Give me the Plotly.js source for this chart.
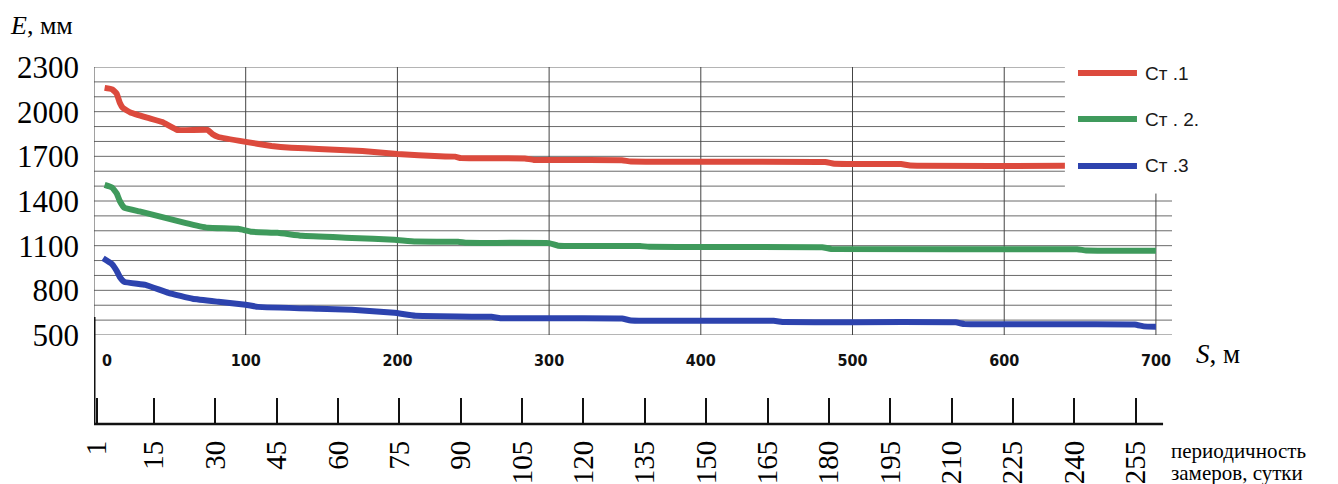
<!DOCTYPE html>
<html>
<head>
<meta charset="utf-8">
<script src="https://cdn.plot.ly/plotly-3.0.1.min.js"></script>
<style>
  html, body { margin: 0; padding: 0; background: #ffffff; }
  #chart { width: 1338px; height: 484px; }
</style>
</head>
<body>
<div id="chart"></div>
<script>
// ---------- data ----------
const seriesNames = ['Ст .1', 'Ст . 2.', 'Ст .3'];
const seriesColors = ['#dc4a3d', '#3f9a5c', '#2d43ae'];

const s1 = [7, 12, 15, 17, 19, 24, 35, 45, 55, 75, 78, 82, 100, 117, 130, 148, 177, 200, 228, 238, 242, 284, 290, 348, 354, 482, 488, 532, 538, 640];
const e1 = [2160, 2150, 2120, 2060, 2025, 1995, 1960, 1930, 1877, 1877, 1850, 1830, 1797, 1770, 1758, 1750, 1736, 1716, 1700, 1698, 1688, 1686, 1676, 1674, 1665, 1662, 1650, 1648, 1638, 1636];

const s2 = [7, 12, 15, 17, 20, 30, 47, 60, 75, 95, 104, 121, 137, 170, 198, 212, 240, 246, 300, 306, 360, 366, 480, 486, 648, 654, 700];
const e2 = [1508, 1490, 1450, 1400, 1355, 1330, 1287, 1253, 1220, 1213, 1193, 1186, 1166, 1152, 1139, 1128, 1126, 1119, 1117, 1100, 1098, 1092, 1090, 1078, 1076, 1068, 1066];

const s3 = [6, 12, 15, 17, 20, 34, 49, 65, 82, 100, 108, 148, 170, 198, 212, 262, 268, 348, 354, 448, 455, 568, 574, 686, 692, 700];
const e3 = [1015, 975, 930, 890, 857, 837, 783, 743, 723, 703, 689, 676, 669, 649, 629, 622, 613, 611, 597, 595, 587, 585, 573, 571, 558, 556];

const sTicks = [0, 100, 200, 300, 400, 500, 600, 700];
const eTicks = [500, 800, 1100, 1400, 1700, 2000, 2300];
const dayTicks = [1, 15, 30, 45, 60, 75, 90, 105, 120, 135, 150, 165, 180, 195, 210, 225, 240, 255];

const eGridStep = 100;
const yTitle = '<i>E</i>, мм';
const xTitle = '<i>S</i>, м';
const dayTitle1 = 'периодичность';
const dayTitle2 = 'замеров, сутки';

// ---------- geometry helpers ----------
const S_MAX = 710.6;     // right edge of plot area in S units
const E_MIN = 500, E_MAX = 2300;
const upperCutE = 1450;  // grid above this is cut short by the legend
const upperCutS = 640;

const serif = 'Liberation Serif, Times New Roman, serif';
const narrowBold = 'Liberation Sans Narrow, DejaVu Sans Condensed, Arial Narrow, sans-serif';
const sans = 'Liberation Sans, Arial, sans-serif';

const xs = [s1, s2, s3], ys = [e1, e2, e3];
const traces = xs.map((x, i) => ({
  type: 'scatter', mode: 'lines', x: x, y: ys[i], name: seriesNames[i],
  line: { color: seriesColors[i], width: 6, shape: 'spline', smoothing: 0.3 },
  showlegend: false, hoverinfo: 'x+y+name', xaxis: 'x', yaxis: 'y'
}));
// invisible carrier for the day axis
traces.push({
  type: 'scatter', mode: 'markers', x: dayTicks, y: dayTicks.map(() => null),
  xaxis: 'x2', yaxis: 'y', showlegend: false, hoverinfo: 'skip', marker: { opacity: 0 }
});

// ---------- grid & frame shapes ----------
const shapes = [];
for (let v = E_MIN; v <= E_MAX; v += eGridStep) {
  shapes.push({
    type: 'line', xref: 'x', yref: 'y', x0: 0, x1: v > upperCutE ? upperCutS : S_MAX, y0: v, y1: v,
    line: { color: '#6a6a6a', width: 1 }, layer: 'below'
  });
}
sTicks.forEach(t => {
  shapes.push({
    type: 'line', xref: 'x', yref: 'y', x0: t, x1: t, y0: E_MIN, y1: t >= 700 ? upperCutE : E_MAX,
    line: { color: '#444444', width: 1 }, layer: 'below'
  });
});
// thick frame of the day axis
shapes.push({ type: 'line', xref: 'x', yref: 'paper', x0: 0, x1: 0, y0: 0, y1: 0.30, line: { color: '#111', width: 3 } });
shapes.push({ type: 'line', xref: 'paper', yref: 'paper', x0: 0, x1: 0.9917, y0: 0, y1: 0, line: { color: '#111', width: 2.5 } });

// legend (drawn manually for the long legend lines)
const legY = [0.983, 0.854, 0.723];
seriesNames.forEach((n, i) => {
  shapes.push({ type: 'line', xref: 'paper', yref: 'paper', x0: 0.9128, x1: 0.9675, y0: legY[i], y1: legY[i],
    line: { color: seriesColors[i], width: 6 } });
});

const annotations = [];
seriesNames.forEach((n, i) => {
  annotations.push({ xref: 'paper', yref: 'paper', x: 0.9731, y: legY[i], xanchor: 'left', yanchor: 'middle',
    text: n, showarrow: false, font: { family: sans, size: 19, color: '#1a1a1a' } });
});
annotations.push({ xref: 'paper', yref: 'paper', x: -0.080, y: 1.115, xanchor: 'left', yanchor: 'middle',
  text: yTitle, showarrow: false, font: { family: serif, size: 26, color: '#000' } });
annotations.push({ xref: 'paper', yref: 'paper', x: 1.020, y: 0.195, xanchor: 'left', yanchor: 'middle',
  text: xTitle, showarrow: false, font: { family: serif, size: 27, color: '#000' } });
annotations.push({ xref: 'paper', yref: 'paper', x: 0.9975, y: -0.076, xanchor: 'left', yanchor: 'middle',
  text: dayTitle1, showarrow: false, font: { family: serif, size: 21, color: '#000' } });
annotations.push({ xref: 'paper', yref: 'paper', x: 0.9975, y: -0.136, xanchor: 'left', yanchor: 'middle',
  text: dayTitle2, showarrow: false, font: { family: serif, size: 21, color: '#000' } });
// the "0" of the S axis sits to the right of the axis line
annotations.push({ xref: 'x', yref: 'y', x: sTicks[0], y: E_MIN, xanchor: 'left', yanchor: 'top', xshift: 6, yshift: -14,
  text: String(sTicks[0]), showarrow: false, font: { family: narrowBold, size: 16, color: '#111', weight: 'bold' } });

const layout = {
  width: 1338, height: 484,
  margin: { l: 94, r: 166, t: 67, b: 60, pad: 0 },
  paper_bgcolor: '#ffffff', plot_bgcolor: '#ffffff',
  showlegend: false,
  xaxis: {
    domain: [0, 1], range: [0, S_MAX], anchor: 'y',
    tickvals: sTicks.slice(1), ticktext: sTicks.slice(1).map(String),
    showgrid: false, zeroline: false, showline: false, ticks: '',
    ticklabelstandoff: 14,
    tickfont: { family: narrowBold, size: 16, color: '#111', weight: 'bold' }
  },
  xaxis2: {
    overlaying: 'x', anchor: 'free', position: 0, side: 'bottom',
    range: [0.32, 263.9], tickvals: dayTicks, ticktext: dayTicks.map(String),
    showgrid: false, zeroline: false, showline: false,
    ticks: 'inside', ticklen: 26, tickwidth: 2, tickcolor: '#111',
    tickangle: -90, ticklabelstandoff: 10,
    tickfont: { family: serif, size: 29, color: '#000' }
  },
  yaxis: {
    domain: [0.2493, 1], range: [E_MIN, E_MAX], anchor: 'x',
    tickvals: eTicks, ticktext: eTicks.map(String),
    showgrid: false, zeroline: false, showline: false, ticks: '',
    ticklabelstandoff: 14,
    tickfont: { family: serif, size: 31, color: '#000' }
  },
  shapes: shapes,
  annotations: annotations
};

Plotly.newPlot('chart', traces, layout, { staticPlot: true, displayModeBar: false });
</script>
</body>
</html>
